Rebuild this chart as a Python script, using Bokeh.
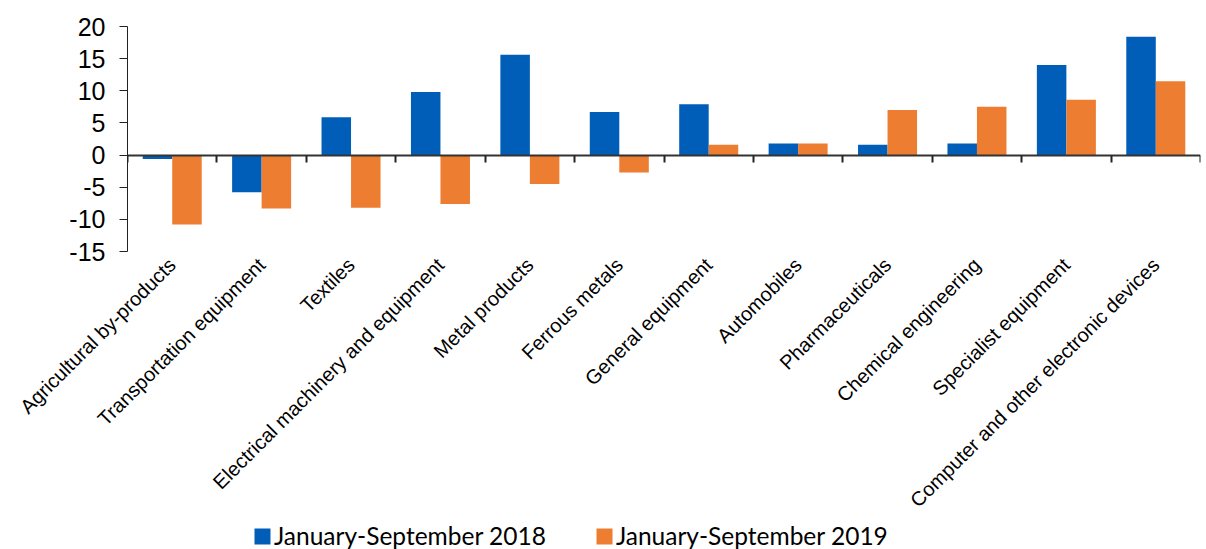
import math
from bokeh.plotting import figure
from bokeh.layouts import column
from bokeh.models import (Range1d, FixedTicker, LinearAxis, Legend, LegendItem)
from bokeh.embed import file_html
from bokeh.resources import INLINE

categories = ["Agricultural by-products", "Transportation equipment", "Textiles",
              "Electrical machinery and equipment", "Metal products", "Ferrous metals",
              "General equipment", "Automobiles", "Pharmaceuticals", "Chemical engineering",
              "Specialist equipment", "Computer and other electronic devices"]
values_2018 = [-0.6, -5.8, 5.9, 9.8, 15.6, 6.7, 7.9, 1.8, 1.6, 1.8, 14.0, 18.4]
values_2019 = [-10.8, -8.3, -8.2, -7.6, -4.5, -2.7, 1.6, 1.8, 7.0, 7.5, 8.6, 11.5]
series_names = ["January-September 2018", "January-September 2019"]
y_ticks = [-15, -10, -5, 0, 5, 10, 15, 20]
y_tick_labels = ["-15", "-10", "-5", "0", "5", "10", "15", "20"]

BLUE = "#005EB8"
ORANGE = "#ED7D31"
FONT = "Liberation Sans"

n = len(categories)
centers = [i + 0.5 for i in range(n)]
bw = 0.33

p = figure(width=1206, height=522, output_backend="svg", toolbar_location=None,
           x_range=Range1d(0, n), y_range=Range1d(-15, 20),
           min_border_left=127, min_border_top=26, min_border_right=6, min_border_bottom=271)
p.outline_line_color = None
p.xgrid.visible = False
p.ygrid.visible = False

p.vbar(x=[c - bw / 2 for c in centers], top=values_2018, bottom=0, width=bw,
       fill_color=BLUE, line_color=None)
p.vbar(x=[c + bw / 2 for c in centers], top=values_2019, bottom=0, width=bw,
       fill_color=ORANGE, line_color=None)

# y axis
ya = p.yaxis[0]
ya.ticker = FixedTicker(ticks=y_ticks)
ya.major_label_overrides = {t: s for t, s in zip(y_ticks, y_tick_labels)}
ya.minor_tick_line_color = None
ya.major_tick_out = 8
ya.major_tick_in = 0
ya.axis_line_color = "#222222"
ya.major_tick_line_color = "#222222"
ya.major_label_text_font = FONT
ya.major_label_text_font_size = "25px"
ya.major_label_text_color = "black"
ya.major_label_standoff = 14

# x axis labels (below)
xa = p.xaxis[0]
xa.ticker = FixedTicker(ticks=centers)
xa.major_label_overrides = {c: name for c, name in zip(centers, categories)}
xa.major_label_orientation = math.pi / 4
xa.axis_line_color = None
xa.major_tick_line_color = None
xa.minor_tick_line_color = None
xa.major_label_text_font = FONT
xa.major_label_text_font_size = "20px"
xa.major_label_text_color = "black"
xa.major_label_standoff = 4

# zero line axis with ticks between categories
za = LinearAxis(fixed_location=0, ticker=FixedTicker(ticks=list(range(n + 1))))
za.axis_line_color = "#333333"
za.axis_line_width = 2
za.major_tick_line_color = "#222222"
za.major_tick_line_width = 2
za.major_tick_in = 7
za.major_tick_out = 0
za.minor_tick_line_color = None
za.major_label_text_font_size = "0px"
za.major_label_text_color = None
p.add_layout(za, "above")

# legend strip
pl = figure(width=1206, height=27, output_backend="svg", toolbar_location=None,
            x_range=Range1d(0, 1), y_range=Range1d(0, 1),
            x_axis_type=None, y_axis_type=None,
            min_border_left=0, min_border_right=0, min_border_top=0, min_border_bottom=0)
pl.outline_line_color = None
pl.xgrid.visible = False
pl.ygrid.visible = False
# zero-size swatch renderers (only used to draw the legend squares)
g1 = pl.vbar(x=[0.5], top=[0], bottom=[0], width=0, fill_color=BLUE, line_color=None)
g2 = pl.vbar(x=[0.5], top=[0], bottom=[0], width=0, fill_color=ORANGE, line_color=None)

legend = Legend(items=[LegendItem(label=series_names[0], renderers=[g1]),
                       LegendItem(label=series_names[1], renderers=[g2])],
                location=(125, -1), orientation="horizontal")
legend.border_line_color = None
legend.background_fill_alpha = 0
legend.label_text_font = "Lato"
legend.label_text_font_size = "24.5px"
legend.label_text_color = "black"
legend.label_height = 20
legend.glyph_width = 20
legend.glyph_height = 20
legend.label_standoff = 2
legend.spacing = 48
legend.padding = 0
legend.margin = 0
pl.add_layout(legend, "center")

open("out.html", "w").write(file_html(column(p, pl, spacing=0), INLINE))
